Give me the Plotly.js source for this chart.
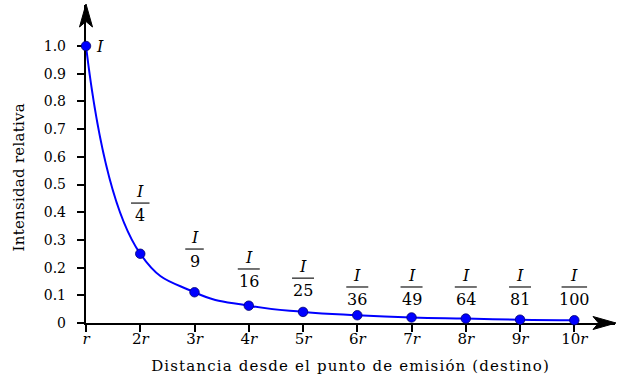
<!DOCTYPE html>
<html><head><meta charset="utf-8">
<script src="https://cdn.plot.ly/plotly-3.0.1.min.js"></script>
<style>html,body{margin:0;padding:0;background:#fff}#chart{width:621px;height:379px}</style>
</head><body><div id="chart"></div>
<script>
// ---- data ----
const distance = [1, 2, 3, 4, 5, 6, 7, 8, 9, 10];
const distanceLabels = ['<i>r</i>', '2<i>r</i>', '3<i>r</i>', '4<i>r</i>', '5<i>r</i>', '6<i>r</i>', '7<i>r</i>', '8<i>r</i>', '9<i>r</i>', '10<i>r</i>'];
const intensity = [1.0, 0.25, 0.111, 0.0625, 0.04, 0.028, 0.020, 0.016, 0.012, 0.010];
const denominators = ['', '4', '9', '16', '25', '36', '49', '64', '81', '100'];
const yTicks = [0, 0.1, 0.2, 0.3, 0.4, 0.5, 0.6, 0.7, 0.8, 0.9, 1.0];
const yTickLabels = ['0', '0.1', '0.2', '0.3', '0.4', '0.5', '0.6', '0.7', '0.8', '0.9', '1.0'];

// ---- style / placement ----
const FONT = 'DejaVu Serif, Liberation Serif, serif';
const fracHeights = [null, 0.433, 0.267, 0.195, 0.162, 0.13, 0.13, 0.13, 0.13, 0.13];
const W = 621, H = 379, M = {l: 86, r: 6, t: 5, b: 56};
const PW = W - M.l - M.r, PH = H - M.t - M.b;
const px = x => (x - M.l) / PW;
const py = y => (H - M.b - y) / PH;

const traces = [{
  x: distance, y: intensity, type: 'scatter', mode: 'lines+markers',
  line: {color: '#0000ff', width: 2, shape: 'spline', smoothing: 1.3},
  marker: {color: '#0000ff', size: 9.5, line: {color: '#00006e', width: 0.8}},
  cliponaxis: false, hoverinfo: 'skip'
}];

const annotations = [];
const shapes = [];
annotations.push({x: distance[0], y: intensity[0], xref: 'x', yref: 'y', text: '<i>I</i>',
  showarrow: false, xanchor: 'left', yanchor: 'middle', xshift: 8, font: {family: FONT, size: 16, color: '#000'}});
for (let i = 1; i < distance.length; i++) {
  const yh = fracHeights[i];
  annotations.push({x: distance[i], y: yh, xref: 'x', yref: 'y', text: '<i>I</i>', showarrow: false,
    xanchor: 'center', yanchor: 'bottom', yshift: 0, font: {family: FONT, size: 16, color: '#000'}});
  annotations.push({x: distance[i], y: yh, xref: 'x', yref: 'y', text: denominators[i], showarrow: false,
    xanchor: 'center', yanchor: 'top', yshift: -1, font: {family: FONT, size: 16, color: '#000'}});
  const hw = 15 + 3.5 * denominators[i].length;
  shapes.push({type: 'line', xref: 'x', yref: 'y', xsizemode: 'pixel', xanchor: distance[i],
    x0: -hw / 2, x1: hw / 2, y0: yh, y1: yh, line: {color: '#000', width: 1.1}});
}
// axis titles
const XT = annotations.length;
annotations.push({xref: 'paper', yref: 'paper', x: 0.5, y: py(366), text: 'Distancia desde el punto de emisión (destino)',
  showarrow: false, xanchor: 'center', yanchor: 'middle', font: {family: FONT, size: 15, color: '#000'}});
const YT = annotations.length;
annotations.push({xref: 'paper', yref: 'paper', x: px(19), y: py(177), text: 'Intensidad relativa', textangle: -90,
  showarrow: false, xanchor: 'center', yanchor: 'middle', font: {family: FONT, size: 15, color: '#000'}});

// arrowheads
function P(pts) { return 'M' + pts.map(p => px(p[0]) + ',' + py(p[1])).join(' L') + ' Z'; }
shapes.push({type: 'path', xref: 'paper', yref: 'paper', path: P([[86, 4], [79.5, 27], [86, 21.5], [92.5, 27]]),
  fillcolor: '#000', line: {color: '#000', width: 1}});
shapes.push({type: 'path', xref: 'paper', yref: 'paper', path: P([[616, 323], [593, 316.5], [598.5, 323], [593, 329.5]]),
  fillcolor: '#000', line: {color: '#000', width: 1}});

const layout = {
  width: W, height: H, margin: M, showlegend: false,
  paper_bgcolor: '#fff', plot_bgcolor: '#fff',
  font: {family: FONT, size: 14, color: '#000'},
  xaxis: {range: [1, 10.75], tickvals: distance, ticktext: distanceLabels, showline: true, linewidth: 2.2,
    linecolor: '#000', ticks: 'outside', ticklen: 7, tickwidth: 2, tickcolor: '#000', showgrid: false,
    zeroline: false, layer: 'below traces', fixedrange: true, ticklabelstandoff: -6, tickfont: {family: FONT, size: 15}},
  yaxis: {range: [0, 1.148], tickvals: yTicks, ticktext: yTickLabels, showline: true, linewidth: 2.2,
    linecolor: '#000', ticks: 'outside', ticklen: 7, tickwidth: 2, tickcolor: '#000', showgrid: false,
    zeroline: false, layer: 'below traces', fixedrange: true, ticklabelstandoff: 8, tickfont: {family: FONT, size: 14}},
  annotations: annotations, shapes: shapes
};
Plotly.newPlot('chart', traces, layout, {displayModeBar: false, staticPlot: true}).then(() => {
  const xt = document.querySelector('g.annotation[data-index="' + XT + '"] text');
  if (xt) xt.style.letterSpacing = '1.15px';
  const yt = document.querySelector('g.annotation[data-index="' + YT + '"] text');
  if (yt) yt.style.letterSpacing = '0.25px';
});
</script></body></html>
